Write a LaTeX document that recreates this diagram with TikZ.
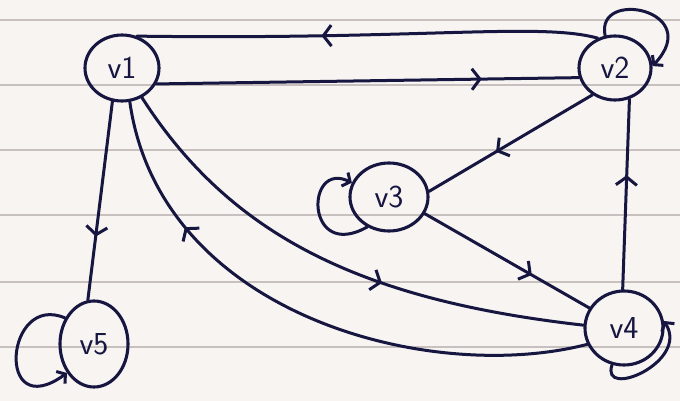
\documentclass[tikz,border=0pt]{standalone}
\usetikzlibrary{arrows.meta,decorations.markings,shapes.geometric}
\definecolor{ink}{RGB}{22,22,64}
\definecolor{paper}{RGB}{247,244,242}
\definecolor{ruling}{RGB}{160,150,150}

\tikzset{
  vert/.style={ellipse, draw=ink, line width=3.1pt, inner sep=0pt,
    font=\sffamily\fontsize{32}{34}\selectfont, text=ink},
  edge/.style={draw=ink, line width=3pt, line cap=round},
  midarrow/.style={postaction={decorate}, decoration={markings,
    mark=at position #1 with {\arrow{Straight Barb[length=8pt,width=21pt]}}}},
  loopedge/.style={edge, -{Straight Barb[length=6pt,width=15pt]}},
}

\begin{document}
\begin{tikzpicture}[x=1pt,y=-1pt]
  % paper and ruling
  \fill[paper] (0,0) rectangle (680,401);
  \useasboundingbox (0,0) rectangle (680,401);
  \foreach \yy in {20,85,150,215,282,347}
    \draw[ruling, line width=2pt, opacity=0.55] (0,\yy) -- (680,\yy);

  % vertices
  \node[vert, minimum width=74pt, minimum height=66pt] (v1) at (122,68)  {v1};
  \node[vert, minimum width=72pt, minimum height=64pt] (v2) at (615,68)  {v2};
  \node[vert, minimum width=78pt, minimum height=68pt] (v3) at (389,197) {v3};
  \node[vert, minimum width=78pt, minimum height=74pt] (v4) at (624,328) {v4};
  \node[vert, minimum width=68pt, minimum height=86pt] (v5) at (94,344)  {v5};

  % edges between vertices
  \draw[edge, midarrow=0.6]  (v2.120) .. controls (540,22) and (420,40) .. (v1.65);
  \draw[edge, midarrow=0.77] (v1.-25) -- (v2.195);
  \draw[edge, midarrow=0.59] (v2.230) -- (v3.8);
  \draw[edge, midarrow=0.6]  (v4.92) -- (v2.-65);
  \draw[edge, midarrow=0.65] (v3.-25) -- (v4.150);
  \draw[edge, midarrow=0.6]  (v1.-56) .. controls (230,235) and (360,300) .. (v4.176);
  \draw[edge, midarrow=0.76] (v4.204) .. controls (430,385) and (160,315) .. (v1.-77);
  \draw[edge, midarrow=0.68] (v1.-106) -- (v5.98);

  % self-loops
  \draw[loopedge] (v2.107) .. controls (595,-12) and (705,10) .. (v2.3);
  \draw[loopedge] (v3.234) .. controls (305,262) and (305,160) .. (v3.159);
  \draw[loopedge] (v4.252) .. controls (600,400) and (690,362) .. (v4.10);
  \draw[loopedge] (v5.138) .. controls (5,292) and (-5,425) .. (v5.227);
\end{tikzpicture}
\end{document}
